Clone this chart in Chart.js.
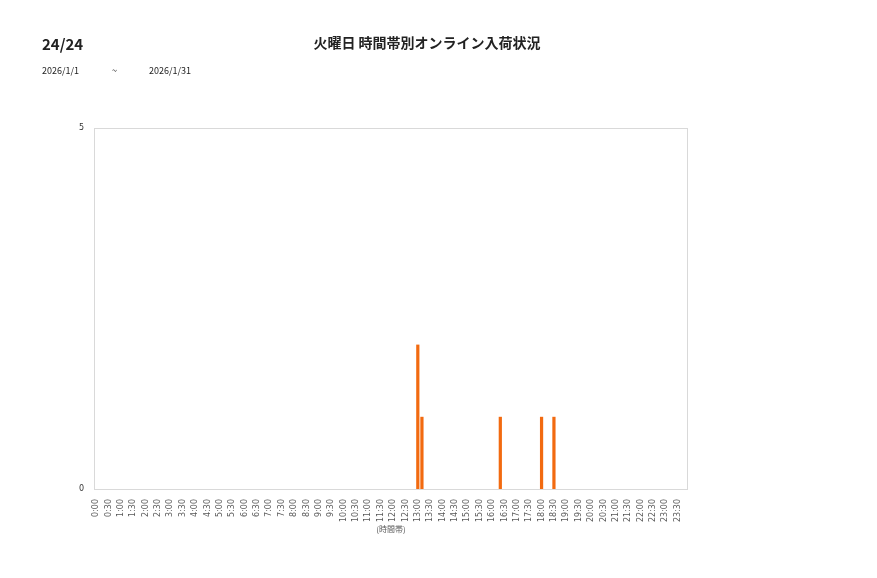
<!DOCTYPE html>
<html>
<head>
<meta charset="utf-8">
<script src="https://cdn.jsdelivr.net/npm/chart.js@4/dist/chart.umd.min.js"></script>
<style>
  body { margin: 0; background: #fff; font-family: "Noto Sans CJK JP", "Noto Sans", sans-serif; }
  #wrap { position: relative; width: 877px; height: 578px; }
  .t { position: absolute; color: #222; white-space: nowrap; }
  #pageNo { left: 42px; top: 33px; font-size: 15px; font-weight: bold; }
  #title { left: 0; width: 854px; text-align: center; top: 32px; font-size: 14px; font-weight: bold; }
  .d { top: 64px; font-size: 9px; }
  canvas { position: absolute; left: 0; top: 0; }
</style>
</head>
<body>
<div id="wrap">
  <canvas id="chart" width="877" height="578"></canvas>
  <div class="t" id="pageNo">24/24</div>
  <div class="t" id="title">火曜日 時間帯別オンライン入荷状況</div>
  <div class="t d" style="left:42px">2026/1/1</div>
  <div class="t d" style="left:112px">~</div>
  <div class="t d" style="left:149px">2026/1/31</div>
</div>
<script>
// 10-minute slots, 0:00 .. 23:50
const slots = [];
for (let h = 0; h < 24; h++) {
    for (let m = 0; m < 60; m += 10) {
        slots.push(h + ':' + (m < 10 ? '0' + m : m));
    }
}

// arrivals per slot (only non-zero ones)
const arrivalSlots = ['13:00', '13:10', '16:20', '18:00', '18:30'];
const arrivalCounts = [2, 1, 1, 1, 1];

const yTicks = [0, 5];

const values = slots.map(s => {
    const i = arrivalSlots.indexOf(s);
    return i >= 0 ? arrivalCounts[i] : 0;
});

const frame = {
    id: 'frame',
    afterDraw(chart) {
        const a = chart.chartArea;
        const ctx = chart.ctx;
        ctx.save();
        ctx.strokeStyle = '#d9d9d9';
        ctx.lineWidth = 1;
        ctx.strokeRect(a.left + 0.5, a.top + 0.5, a.right - a.left - 1, a.bottom - a.top);
        ctx.restore();
    }
};

new Chart(document.getElementById('chart'), {
    type: 'bar',
    data: {
        labels: slots,
        datasets: [{
            data: values,
            backgroundColor: '#f26a10',
            categoryPercentage: 1,
            barPercentage: 0.78
        }]
    },
    options: {
        responsive: false,
        animation: false,
        layout: { padding: { left: 63, top: 128, right: 189, bottom: 44 } },
        plugins: {
            legend: { display: false },
            tooltip: { enabled: false }
        },
        scales: {
            x: {
                grid: { display: false },
                border: { display: false },
                afterFit: axis => { axis.height = 45; },
                ticks: {
                    autoSkip: false,
                    minRotation: 90,
                    maxRotation: 90,
                    padding: 2,
                    color: '#595959',
                    font: { family: 'DejaVu Sans', size: 8 },
                    callback: (v, i) => i % 3 === 0 ? slots[i] : ''
                },
                title: {
                    display: true,
                    text: '(時間帯)',
                    color: '#595959',
                    font: { family: 'Noto Sans CJK JP', size: 8 },
                    padding: { top: 2, bottom: 0 }
                }
            },
            y: {
                min: 0,
                max: 5,
                grid: { display: false },
                border: { display: false },
                afterFit: axis => { axis.width = 31; },
                afterBuildTicks: axis => { axis.ticks = yTicks.map(v => ({ value: v })); },
                ticks: {
                    color: '#333',
                    padding: 2,
                    font: { family: 'DejaVu Sans', size: 8 }
                }
            }
        }
    },
    plugins: [frame]
});
</script>
</body>
</html>
